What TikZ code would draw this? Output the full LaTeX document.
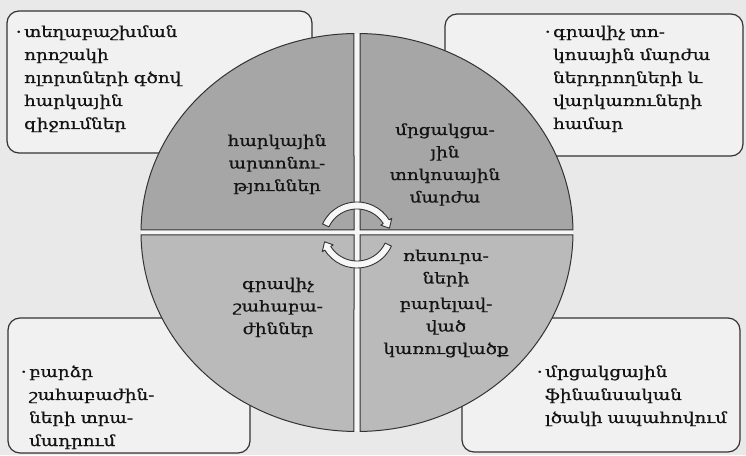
\documentclass[tikz,border=0pt]{standalone}
\usepackage{fontspec}
\newfontfamily\armfont[FakeStretch=1.22,FakeBold=0.9]{DejaVu Serif}
\definecolor{paper}{gray}{0.915}
\definecolor{boxfill}{gray}{0.945}
\definecolor{topgray}{gray}{0.65}
\definecolor{botgray}{gray}{0.73}
\definecolor{gapcol}{gray}{0.97}
\definecolor{textcol}{gray}{0.08}
\definecolor{linecol}{gray}{0.2}
\begin{document}
\begin{tikzpicture}[x=1pt,y=1pt,
  box/.style={draw=linecol, line width=1.2pt, rounded corners=12pt, fill=boxfill},
  btext/.style={font=\armfont\fontsize{15}{23}\selectfont, text=textcol, anchor=base west, align=left, inner sep=0pt, text width=210pt},
  qtext/.style={font=\armfont\fontsize{15}{22.5}\selectfont, text=textcol, anchor=base, align=center, inner sep=0pt, text width=160pt},
  quad/.style={draw=linecol, line width=1pt},
  band/.style={fill=gapcol, draw=linecol, line width=0.9pt, line join=round}]
\useasboundingbox (0,0) rectangle (746,455);
\fill[paper] (0,0) rectangle (746,455);
% boxes
\draw[box] (7,444) rectangle (312,302);
\draw[box] (445,441) rectangle (743,299);
\draw[box] (8,137) rectangle (250,2);
\draw[box] (462,137) rectangle (740,3);
% circle
\begin{scope}[shift={(357,222.5)}]
  \fill[gapcol] (0,0) ellipse [x radius=216, y radius=199];
  \filldraw[quad, fill=topgray] (3,2.5) -- (89.2:216 and 199) arc[start angle=89.2, end angle=0.72, x radius=216, y radius=199] -- cycle;
  \filldraw[quad, fill=topgray] (-3,2.5) -- (90.8:216 and 199) arc[start angle=90.8, end angle=179.28, x radius=216, y radius=199] -- cycle;
  \filldraw[quad, fill=botgray] (-3,-2.5) -- (180.72:216 and 199) arc[start angle=180.72, end angle=269.2, x radius=216, y radius=199] -- cycle;
  \filldraw[quad, fill=botgray] (3,-2.5) -- (270.8:216 and 199) arc[start angle=270.8, end angle=359.28, x radius=216, y radius=199] -- cycle;
\end{scope}
% cycle arrows
\begin{scope}[shift={(357,215)}]
  \filldraw[band] (155:38) arc[start angle=155, end angle=32, radius=38] -- (32:41) -- (20:34.5) -- (32:28) -- (32:31) arc[start angle=32, end angle=155, radius=31] -- cycle;
\end{scope}
\begin{scope}[shift={(357,225)}]
  \filldraw[band] (-25:38) arc[start angle=-25, end angle=-148, radius=38] -- (-148:41) -- (-160:34.5) -- (-148:28) -- (-148:31) arc[start angle=-148, end angle=-25, radius=31] -- cycle;
\end{scope}
% box texts
\node[btext] (tl) at (24,418) {\llap{·\,}տեղաբաշխման\\որոշակի\\ոլորտների գծով\\հարկային\\զիջումներ};
\node[btext] (tr) at (553,418) {\llap{·\,}գրավիչ տո-\\կոսային մարժա\\ներդրողների և\\վարկառուների\\համար};
\node[btext] (bl) at (29,78) {\llap{·\,}բարձր\\շահաբաժին-\\ների տրա-\\մադրում};
\node[btext] (br) at (545,78) {\llap{·\,}մրցակցային\\ֆինանսական\\լծակի ապահովում};
% quadrant texts
\node[qtext] (q1) at (277,309) {հարկային\\արտոնու-\\թյուններ};
\node[qtext] (q2) at (445,320) {մրցակցա-\\յին\\տոկոսային\\մարժա};
\node[qtext] (q3) at (278,166) {գրավիչ\\շահաբա-\\ժիններ};
\node[qtext] (q4) at (446,194) {ռեսուրս-\\ների\\[3pt]բարելավ-\\ված\\կառուցվածք};
\end{tikzpicture}
\end{document}
